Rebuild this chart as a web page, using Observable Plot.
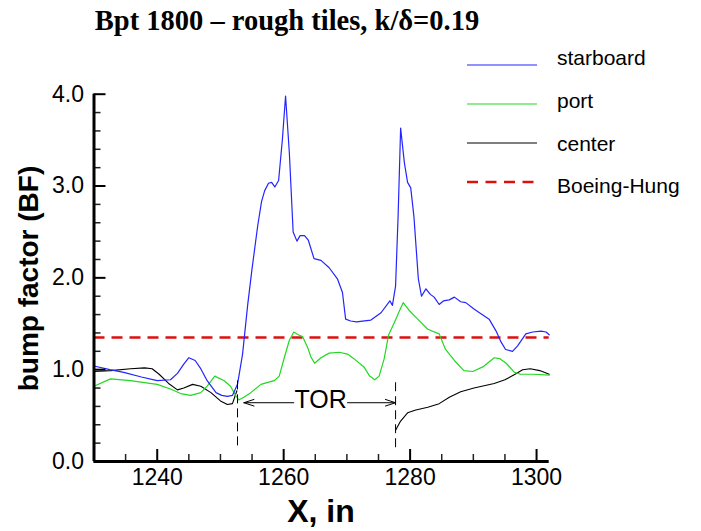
<!DOCTYPE html>
<html><head><meta charset="utf-8">
<script src="https://cdn.jsdelivr.net/npm/d3@7"></script>
<script src="https://cdn.jsdelivr.net/npm/@observablehq/plot@0.6"></script>
<style>body{margin:0;background:#fff}</style>
</head><body><div id="chart"></div>
<script>
const titleText = "Bpt 1800 \u2013 rough tiles, k/\u03b4=0.19";
const xLabel = "X, in";
const yLabel = "bump factor (BF)";
const seriesNames = ["starboard", "port", "center", "Boeing-Hung"];

const xStar = [1230,1232.5,1234.7,1237.5,1240.0,1242.1,1243.2,1244.2,1245.0,1246.0,1246.8,1247.9,1249.3,1250.2,1251.1,1251.9,1252.7,1253.5,1254.3,1255.0,1255.9,1256.5,1257.0,1257.6,1258.1,1258.6,1259.2,1259.8,1260.3,1260.9,1261.5,1262.1,1262.6,1263.3,1263.9,1264.8,1265.9,1267.2,1268.5,1269.3,1269.8,1270.6,1271.5,1273.8,1275.4,1276.8,1277.2,1277.7,1278.1,1278.5,1279.1,1279.6,1280.1,1280.6,1281.3,1281.8,1282.5,1283.2,1283.8,1284.6,1285.3,1286.2,1287.0,1288.0,1288.8,1290.1,1291.2,1292.5,1293.6,1294.4,1295.1,1296.2,1297.0,1298.3,1299.4,1300.7,1301.5,1302];
const yStar = [1.04,1.00,0.97,0.92,0.88,0.89,0.96,1.06,1.13,1.10,1.02,0.88,0.75,0.72,0.71,0.72,0.84,1.17,1.70,2.10,2.57,2.83,2.95,3.03,3.04,2.99,3.06,3.51,3.98,3.36,2.50,2.40,2.46,2.46,2.41,2.21,2.19,2.11,1.99,1.84,1.55,1.53,1.52,1.54,1.62,1.75,1.70,1.91,2.67,3.63,3.25,3.04,2.98,2.67,1.99,1.80,1.88,1.82,1.79,1.71,1.75,1.76,1.79,1.74,1.73,1.66,1.61,1.55,1.42,1.30,1.22,1.20,1.26,1.39,1.41,1.42,1.41,1.38];

const xPort = [1230,1232.6,1235.8,1238.0,1240.0,1242.1,1243.7,1245.3,1246.9,1247.9,1249.1,1250.6,1251.6,1252.4,1252.9,1253.7,1254.8,1256.4,1258.5,1259.3,1260.1,1260.9,1261.6,1262.3,1263.0,1263.8,1264.3,1264.9,1265.9,1267.2,1268.8,1270.1,1271.1,1272.7,1273.6,1274.4,1275.1,1275.9,1276.6,1277.5,1278.3,1278.9,1279.8,1281.2,1282.8,1284.6,1285.6,1287.0,1288.5,1289.9,1291.5,1293.3,1294.2,1295.2,1296.5,1297.5,1299.6,1302];
const yPort = [0.82,0.90,0.88,0.86,0.84,0.79,0.74,0.72,0.75,0.82,0.93,0.88,0.82,0.72,0.67,0.70,0.75,0.84,0.88,0.93,1.13,1.32,1.41,1.38,1.36,1.24,1.14,1.07,1.13,1.18,1.19,1.17,1.12,1.03,0.93,0.89,0.93,1.12,1.38,1.51,1.64,1.73,1.65,1.55,1.44,1.39,1.22,1.10,0.99,0.98,1.03,1.13,1.12,1.07,0.97,0.95,0.95,0.94];

const xCenter = [1230,1232.6,1235.8,1238.0,1239.2,1240.3,1241.8,1243.2,1244.2,1245.6,1246.9,1248.5,1250.0,1251.1,1251.9,1252.3,1252.6,1265,1277.7,1278.5,1279.6,1280.9,1282.8,1284.6,1286.2,1288.0,1290.1,1293.3,1295.0,1296.6,1297.8,1299.0,1300.5,1302];
const yCenter = [0.98,0.99,1.01,1.02,1.01,0.95,0.85,0.78,0.80,0.84,0.82,0.75,0.66,0.62,0.63,0.71,0.77,null,0.34,0.44,0.53,0.56,0.59,0.63,0.70,0.76,0.80,0.85,0.89,0.95,1.00,1.01,0.99,0.95];

const boeingHung = 1.35;

const torX = [1252.7, 1277.7];
const torY1 = [0.17, 0.15];
const torY2 = [0.92, 0.90];
const torLabel = "TOR";
const torArrowFrom = [1261.6, 1270.1];
const torArrowTo = [1253.7, 1277.7];
const torArrowY = 0.64;

const yMajor = [0, 1, 2, 3, 4];
const yMinor = [0.2,0.4,0.6,0.8,1.2,1.4,1.6,1.8,2.2,2.4,2.6,2.8,3.2,3.4,3.6,3.8];
const xMajor = [1240, 1260, 1280, 1300];
const xMinor = [1235, 1245, 1250, 1255, 1265, 1270, 1275, 1285, 1290, 1295];

const W = 701, H = 531, mL = 93.5, mR = 152.3, mT = 93.7, mB = 70;
const innerW = W - mL - mR, innerH = H - mT - mB;
const rows = (xs, ys) => xs.map((x, i) => ({x, y: ys[i]}));

const colors = {starboard: "#2424ff", port: "#22d822", center: "#000000", "Boeing-Hung": "#dd1010"};

const plot = Plot.plot({
  width: W, height: H,
  marginLeft: mL, marginRight: mR, marginTop: mT, marginBottom: mB,
  x: {domain: [1230, 1302]},
  y: {domain: [0, 4]},
  style: {fontFamily: "'Liberation Sans', Arial, sans-serif", background: "white", color: "black"},
  marks: [
    Plot.ruleY([boeingHung], {stroke: colors["Boeing-Hung"], strokeWidth: 2.6, strokeDasharray: "11,7"}),
    Plot.line(rows(xCenter, yCenter), {x: "x", y: "y", stroke: colors.center, strokeWidth: 1.1}),
    Plot.line(rows(xPort, yPort), {x: "x", y: "y", stroke: colors.port, strokeWidth: 1.2}),
    Plot.line(rows(xStar, yStar), {x: "x", y: "y", stroke: colors.starboard, strokeWidth: 1.2}),
    Plot.ruleX(torX.map((x, i) => ({x, y1: torY1[i], y2: torY2[i]})), {x: "x", y1: "y1", y2: "y2", stroke: "black", strokeWidth: 1, strokeDasharray: "9,5"}),
    Plot.arrow(torArrowFrom.map((x, i) => ({x1: x, x2: torArrowTo[i]})), {x1: "x1", x2: "x2", y1: torArrowY, y2: torArrowY, stroke: "black", strokeWidth: 1, headLength: 16, headAngle: 36}),
    Plot.text([torLabel], {x: (torArrowFrom[0] + torArrowFrom[1]) / 2, y: 0.665, text: d => d, fontSize: 25, fill: "black"}),
    Plot.tickY(yMajor, {y: d => d, insetRight: innerW - 12, strokeWidth: 2, stroke: "black"}),
    Plot.tickY(yMinor, {y: d => d, insetRight: innerW - 7, strokeWidth: 1.5, stroke: "#222"}),
    Plot.tickX(xMajor, {x: d => d, insetTop: innerH - 12, strokeWidth: 2, stroke: "black"}),
    Plot.tickX(xMinor, {x: d => d, insetTop: innerH - 7, strokeWidth: 1.5, stroke: "#222"}),
    Plot.ruleX([1230], {y1: 0, y2: 4, strokeWidth: 3}),
    Plot.ruleY([0], {x1: 1230, x2: 1302, strokeWidth: 3}),
    Plot.axisY(yMajor, {tickSize: 0, tickPadding: 10, tickFormat: d3.format(".1f"), fontSize: 23, label: null}),
    Plot.axisX(xMajor, {tickSize: 0, tickPadding: 7, tickFormat: d => String(d), fontSize: 23, label: null})
  ]
});
document.getElementById("chart").appendChild(plot);

const svg = d3.select(plot);
svg.append("text")
  .attr("x", 287).attr("y", 30).attr("text-anchor", "middle")
  .attr("font-family", "'Liberation Serif', 'Times New Roman', serif")
  .attr("font-weight", "bold").attr("font-size", 28.5).attr("fill", "black")
  .text(titleText);
svg.append("text")
  .attr("transform", "translate(37.5,278.5) rotate(-90)").attr("text-anchor", "middle")
  .attr("font-family", "'Liberation Sans', Arial, sans-serif")
  .attr("font-weight", "bold").attr("font-size", 28).attr("fill", "black")
  .text(yLabel);
svg.append("text")
  .attr("x", 321).attr("y", 522).attr("text-anchor", "middle")
  .attr("font-family", "'Liberation Sans', Arial, sans-serif")
  .attr("font-weight", "bold").attr("font-size", 32).attr("fill", "black")
  .text(xLabel);

const legLineY = [65, 104, 143, 182];
const legTextY = [65, 107.5, 150.5, 193];
const lg = svg.append("g");
seriesNames.forEach((name, i) => {
  lg.append("line").attr("x1", 467).attr("x2", 537).attr("y1", legLineY[i]).attr("y2", legLineY[i])
    .attr("stroke", colors[name])
    .attr("stroke-width", name === "Boeing-Hung" ? 2.6 : 1.2)
    .attr("stroke-dasharray", name === "Boeing-Hung" ? "11,7.5" : null);
  lg.append("text").attr("x", 557).attr("y", legTextY[i]).attr("text-anchor", "start")
    .attr("font-family", "'Liberation Sans', Arial, sans-serif")
    .attr("font-size", 21).attr("fill", "black").text(name);
});
</script>
</body></html>
